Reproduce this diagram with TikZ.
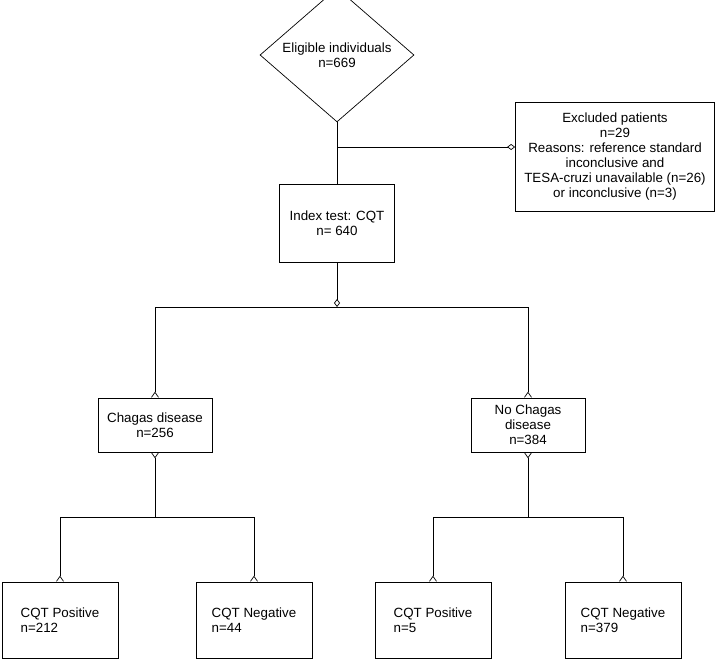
\documentclass[tikz,border=0pt]{standalone}
\usepackage{fontspec}
\setmainfont{Liberation Sans}
\usetikzlibrary{shapes.geometric,arrows.meta}
\begin{document}
\begin{tikzpicture}[x=1bp,y=-1bp]
\tikzset{boite/.style={draw, rectangle, inner sep=1bp, align=center, font=\fontsize{13.4}{15}\selectfont},
  losange/.style={draw, diamond, inner sep=0pt, minimum width=154bp, minimum height=106bp, align=center, font=\fontsize{13.4}{15}\selectfont},
  patte/.style={-{Straight Barb[reversed,length=5bp,width=7bp]}},
  pattedebut/.style={{Straight Barb[reversed,length=5bp,width=7bp]}-},
  losangetip/.style={-{Diamond[open,length=8bp,width=6bp]}},
  every path/.style={line width=0.7bp}}
\useasboundingbox (0,0) rectangle (717,660);
\node[losange] (elig) at (337,55) {Eligible individuals\\n=669};
\node[boite, minimum width=115bp, minimum height=78bp] (index) at (337,223) {Index test: CQT\\n= 640};
\node[boite, minimum width=199bp, minimum height=109bp] (exclu) at (615,156.5) {Excluded patients\\n=29\\Reasons: reference standard\\inconclusive and\\TESA-cruzi unavailable (n=26)\\or inconclusive (n=3)};
\node[boite, minimum width=114bp, minimum height=54bp] (chagas) at (155,425) {Chagas disease\\n=256};
\node[boite, minimum width=114bp, minimum height=54bp] (nochagas) at (528,425) {No Chagas\\disease\\n=384};
\node[boite, align=left, minimum width=116bp, minimum height=76bp] (pos1) at (60,620) {CQT Positive\\n=212};
\node[boite, align=left, minimum width=116bp, minimum height=76bp] (neg1) at (254,620) {CQT Negative\\n=44};
\node[boite, align=left, minimum width=116bp, minimum height=76bp] (pos2) at (433,620) {CQT Positive\\n=5};
\node[boite, align=left, minimum width=116bp, minimum height=76bp] (neg2) at (623,620) {CQT Negative\\n=379};
\coordinate (j1) at (337,147);
\coordinate (j2) at (337,307);
\coordinate (j3) at (155,517);
\coordinate (j4) at (528,517);
\draw (elig.south) -- (index.north);
\draw[losangetip] (j1) -- (j1 -| exclu.west);
\draw[losangetip] (index.south) -- (j2);
\draw[patte] (j2) -| (chagas.north);
\draw[patte] (j2) -| (nochagas.north);
\draw[pattedebut] (chagas.south) -- (j3);
\draw[pattedebut] (nochagas.south) -- (j4);
\draw[patte] (j3) -| (pos1.north);
\draw[patte] (j3) -| (neg1.north);
\draw[patte] (j4) -| (pos2.north);
\draw[patte] (j4) -| (neg2.north);
\end{tikzpicture}
\end{document}
